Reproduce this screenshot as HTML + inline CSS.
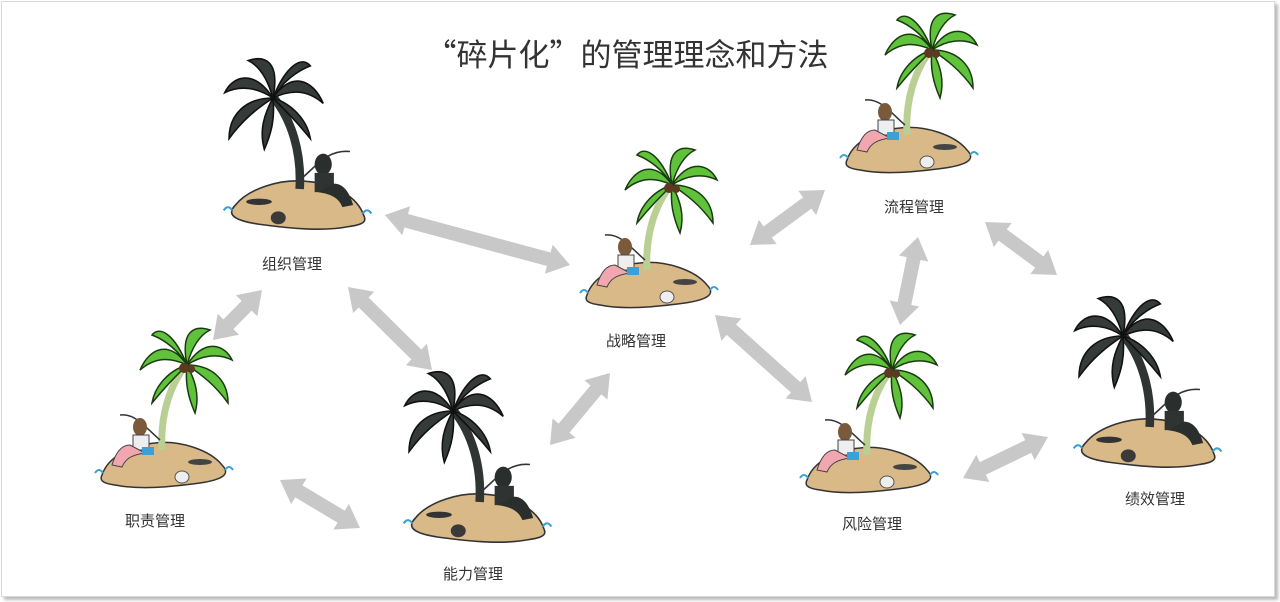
<!DOCTYPE html>
<html><head><meta charset="utf-8"><style>
html,body{margin:0;padding:0;background:#fff;}
#c{position:relative;width:1280px;height:602px;overflow:hidden;font-family:"Liberation Sans","Noto Sans CJK SC",sans-serif;}
.frame{position:absolute;left:1px;top:1px;width:1272px;height:594px;border:1px solid #d8d8d8;box-shadow:3px 3px 3px #bbb;}
.lbl{position:absolute;font-size:15px;color:#333;transform:translateX(-50%);white-space:nowrap;}
.title{position:absolute;left:627px;top:30px;transform:translateX(-50%);font-size:31px;color:#333;white-space:nowrap;font-family:"Noto Sans CJK SC",sans-serif;}
</style></head><body><div id="c">
<div class="frame"></div>
<svg id="s" width="1280" height="602" style="position:absolute;left:0;top:0">
<defs>
<g id="leavesG">
 <path d="M87,-100 C70,-125 50,-118 40,-95 C55,-108 70,-108 87,-100Z"/>
 <path d="M87,-100 C80,-135 95,-140 110,-135 C100,-130 92,-118 87,-100Z"/>
 <path d="M87,-100 C105,-128 125,-120 132,-105 C118,-112 102,-110 87,-100Z"/>
 <path d="M87,-100 C112,-100 128,-85 128,-62 C115,-80 102,-90 87,-100Z"/>
 <path d="M87,-100 C95,-85 100,-70 95,-52 C88,-68 85,-82 87,-100Z"/>
 <path d="M87,-100 C70,-95 55,-80 52,-62 C65,-78 75,-88 87,-100Z"/>
 <path d="M87,-100 C75,-130 60,-140 52,-130 C65,-125 78,-115 87,-100Z"/>
</g>
<g id="green">
 <path d="M2,10 C8,-8 30,-20 55,-22 C80,-25 110,-15 122,0 C132,10 120,15 100,18 C70,22 40,25 15,20 C0,18 0,14 2,10Z" fill="#d9b987" stroke="#333" stroke-width="1.5"/>
 <path d="M62,-15 C60,-50 70,-80 86,-100" stroke="#b9cf94" stroke-width="7" fill="none"/>
 <g fill="#5fc23a" stroke="#1a3a10" stroke-width="1.5"><use href="#leavesG"/></g>
 <circle cx="84" cy="-97" r="5" fill="#5a3a20"/><circle cx="91" cy="-96" r="4" fill="#5a3a20"/>
 <path d="M20,-50 C35,-52 45,-38 60,-25" stroke="#333" stroke-width="1.5" fill="none"/>
 <ellipse cx="40" cy="-38" rx="7" ry="9" fill="#7a5a3a"/>
 <path d="M33,-30 h16 v15 h-16Z" fill="#eee" stroke="#444"/>
 <path d="M30,-20 C20,-20 15,-10 12,0 L22,2 C25,-5 30,-10 45,-12Z" fill="#f2a6b0" stroke="#444"/>
 <rect x="42" y="-18" width="12" height="8" fill="#3aa0d8"/>
 <ellipse cx="100" cy="-3" rx="12" ry="3" fill="#444"/>
 <ellipse cx="82" cy="12" rx="7" ry="6" fill="#eee" stroke="#555"/>
 <path d="M-5,8 q4,-6 8,0 M125,5 q4,-6 8,0" stroke="#3aa0d8" stroke-width="2" fill="none"/>
</g>
<g id="dark">
 <path d="M2,10 C8,-8 30,-20 55,-22 C80,-25 110,-15 122,0 C132,10 120,15 100,18 C70,22 40,25 15,20 C0,18 0,14 2,10Z" fill="#d9b987" stroke="#333" stroke-width="1.5"/>
 <path d="M62,-15 C60,-50 70,-80 86,-100" stroke="#2f3533" stroke-width="8" fill="none"/>
 <g fill="#353b39" stroke="#111" stroke-width="1.5"><use href="#leavesG"/></g>
 <path d="M15,-50 C35,-52 45,-38 60,-25" stroke="#333" stroke-width="1.5" fill="none"/>
 <ellipse cx="40" cy="-38" rx="8" ry="10" fill="#2a2e2c"/>
 <path d="M30,-30 h18 v18 h-18Z" fill="#2f3432"/>
 <path d="M30,-20 C20,-20 15,-10 12,0 L22,2 C25,-5 30,-10 45,-12Z" fill="#2a2e2c"/>
 <ellipse cx="100" cy="-3" rx="12" ry="3" fill="#333"/>
 <ellipse cx="82" cy="12" rx="7" ry="6" fill="#3a3a3a"/>
 <path d="M-5,8 q4,-6 8,0 M125,5 q4,-6 8,0" stroke="#3aa0d8" stroke-width="2" fill="none"/>
</g>
</defs>
<g id="arrows" fill="#c8c8c8"></g>
<use href="#dark" transform="translate(366,205) scale(-1.07,1.07)"/>
<use href="#green" transform="translate(585,285)"/>
<use href="#green" transform="translate(845,150)"/>
<use href="#green" transform="translate(100,465)"/>
<use href="#dark" transform="translate(546,518) scale(-1.07,1.07)"/>
<use href="#green" transform="translate(805,470)"/>
<use href="#dark" transform="translate(1216,443) scale(-1.07,1.07)"/>
</svg>
<div class="title">“碎片化”的管理理念和方法</div>
<div class="lbl" style="left:292px;top:253px">组织管理</div>
<div class="lbl" style="left:636px;top:330px">战略管理</div>
<div class="lbl" style="left:914px;top:196px">流程管理</div>
<div class="lbl" style="left:155px;top:510px">职责管理</div>
<div class="lbl" style="left:473px;top:563px">能力管理</div>
<div class="lbl" style="left:872px;top:513px">风险管理</div>
<div class="lbl" style="left:1155px;top:488px">绩效管理</div>
</div>
<script>
var A=[[385,215,570,265],[262,290,213,340],[348,287,432,370],[280,480,360,528],[550,445,610,373],[750,245,825,190],[715,315,812,402],[918,237,900,325],[985,222,1057,275],[963,478,1048,437]];
var g=document.getElementById('arrows'),h='';
A.forEach(function(a){var dx=a[2]-a[0],dy=a[3]-a[1],L=Math.hypot(dx,dy),ang=Math.atan2(dy,dx)*180/Math.PI,hl=22,w=7,hw=15;
h+='<polygon transform="translate('+a[0]+','+a[1]+') rotate('+ang+')" points="0,0 '+hl+','+(-hw)+' '+hl+','+(-w)+' '+(L-hl)+','+(-w)+' '+(L-hl)+','+(-hw)+' '+L+',0 '+(L-hl)+','+hw+' '+(L-hl)+','+w+' '+hl+','+w+' '+hl+','+hw+'"/>';});
g.innerHTML=h;
</script>
</body></html>
